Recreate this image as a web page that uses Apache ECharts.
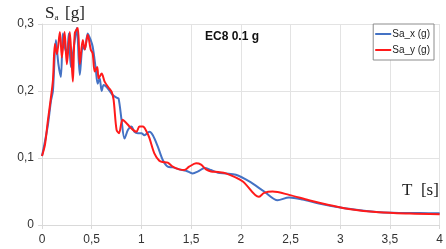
<!DOCTYPE html>
<html>
<head>
<meta charset="utf-8">
<script src="https://cdn.jsdelivr.net/npm/echarts@6/dist/echarts.min.js"></script>
<style>
  html, body { margin: 0; padding: 0; background: #fff; }
  #chart { width: 446px; height: 249px; }
</style>
</head>
<body>
<div id="chart"></div>
<script>
// period T [s] and spectral acceleration Sa [g]
const periodX = [0, 0.03, 0.06, 0.09, 0.11, 0.14, 0.165, 0.19, 0.21, 0.23, 0.25, 0.27, 0.29, 0.31, 0.33, 0.35, 0.38, 0.41, 0.43, 0.46, 0.49, 0.51, 0.54, 0.56, 0.58, 0.6, 0.62, 0.65, 0.68, 0.71, 0.75, 0.77, 0.8, 0.83, 0.865, 0.9, 0.93, 0.965, 1.0, 1.03, 1.08, 1.115, 1.165, 1.215, 1.265, 1.315, 1.38, 1.45, 1.515, 1.57, 1.635, 1.7, 1.77, 1.85, 1.95, 2.085, 2.235, 2.37, 2.485, 2.62, 2.785, 3.0, 3.2, 3.4, 3.6, 3.8, 4.0];
const saX = [0.103, 0.125, 0.15, 0.185, 0.2, 0.276, 0.24, 0.221, 0.286, 0.265, 0.257, 0.286, 0.236, 0.255, 0.276, 0.294, 0.224, 0.266, 0.262, 0.286, 0.276, 0.266, 0.234, 0.211, 0.219, 0.2, 0.209, 0.206, 0.2, 0.194, 0.19, 0.189, 0.157, 0.129, 0.142, 0.147, 0.139, 0.137, 0.137, 0.134, 0.139, 0.134, 0.117, 0.097, 0.087, 0.086, 0.083, 0.081, 0.077, 0.08, 0.085, 0.082, 0.078, 0.077, 0.075, 0.065, 0.05, 0.037, 0.041, 0.038, 0.032, 0.026, 0.022, 0.019, 0.018, 0.0178, 0.0175];

const periodY = [0, 0.03, 0.06, 0.087, 0.11, 0.13, 0.15, 0.18, 0.2, 0.227, 0.25, 0.28, 0.31, 0.33, 0.36, 0.38, 0.41, 0.43, 0.46, 0.49, 0.51, 0.53, 0.555, 0.57, 0.6, 0.63, 0.665, 0.7, 0.72, 0.75, 0.775, 0.81, 0.85, 0.88, 0.915, 0.95, 0.98, 1.015, 1.05, 1.08, 1.13, 1.18, 1.215, 1.265, 1.315, 1.38, 1.43, 1.48, 1.55, 1.6, 1.65, 1.7, 1.77, 1.85, 2.02, 2.18, 2.235, 2.32, 2.485, 2.685, 2.885, 3.085, 3.39, 3.7, 4.0];
const saY = [0.103, 0.12, 0.157, 0.187, 0.216, 0.27, 0.255, 0.288, 0.25, 0.288, 0.24, 0.288, 0.214, 0.286, 0.294, 0.24, 0.276, 0.262, 0.284, 0.262, 0.256, 0.229, 0.236, 0.219, 0.226, 0.214, 0.206, 0.199, 0.187, 0.142, 0.137, 0.157, 0.152, 0.147, 0.142, 0.139, 0.147, 0.147, 0.14, 0.13, 0.107, 0.096, 0.094, 0.093, 0.087, 0.083, 0.082, 0.087, 0.092, 0.09, 0.083, 0.08, 0.079, 0.077, 0.065, 0.042, 0.048, 0.05, 0.045, 0.037, 0.03, 0.024, 0.019, 0.017, 0.016];

const seriesNames = ['Sa_x (g)', 'Sa_y (g)'];

const pairs = (xs, ys) => xs.map((x, i) => [x, ys[i]]);
const comma = v => String(+v.toFixed(2)).replace('.', ',');

let chart = echarts.init(document.getElementById('chart'));
let option = {
  animation: false,
  grid: { left: 42, right: 5, top: 24, bottom: 24 },
  title: {
    text: 'EC8 0.1 g',
    left: 200,
    top: 26,
    textStyle: { fontFamily: 'Liberation Sans', fontWeight: 'bold', fontSize: 12, color: '#111' },
  },
  legend: {
    orient: 'vertical',
    right: 12,
    top: 24,
    data: seriesNames,
    icon: 'rect',
    itemWidth: 16,
    itemHeight: 2,
    itemGap: 6,
    padding: [5, 4, 5, 2],
    borderColor: '#8c8c8c',
    borderWidth: 1,
    backgroundColor: '#fff',
    textStyle: { fontFamily: 'Liberation Sans', fontSize: 10, color: '#222', padding: [0, 0, 0, -4] },
  },
  graphic: [
    {
      type: 'text',
      left: 45,
      top: 5,
      style: {
        text: '{s|S}{a|a}  {s|[g]}',
        rich: {
          s: { fontFamily: 'Liberation Serif', fontSize: 17, fill: '#222' },
          a: { fontFamily: 'Liberation Serif', fontSize: 9, fill: '#222', padding: [9, 0, 0, 0] },
        },
      },
    },
    {
      type: 'text',
      left: 402,
      top: 182,
      style: { text: 'T  [s]', fontFamily: 'Liberation Serif', fontSize: 17, fill: '#222' },
    },
  ],
  xAxis: {
    type: 'value',
    min: 0,
    max: 4,
    interval: 0.5,
    axisLine: { show: true, lineStyle: { color: '#d9d9d9' } },
    axisTick: { show: true, length: 4, lineStyle: { color: '#d9d9d9' } },
    axisLabel: { formatter: comma, color: '#333', fontFamily: 'Liberation Sans', fontSize: 12, margin: 9 },
    splitLine: { show: true, lineStyle: { color: '#e3e3e3' } },
  },
  yAxis: {
    type: 'value',
    min: 0,
    max: 0.3,
    interval: 0.1,
    axisLine: { show: true, lineStyle: { color: '#d9d9d9' } },
    axisTick: { show: true, length: 4, lineStyle: { color: '#d9d9d9' } },
    axisLabel: { formatter: comma, color: '#333', fontFamily: 'Liberation Sans', fontSize: 12, margin: 8 },
    splitLine: { show: true, lineStyle: { color: '#e3e3e3' } },
  },
  series: [
    {
      name: seriesNames[0],
      type: 'line',
      data: pairs(periodX, saX),
      smooth: 0.3,
      showSymbol: false,
      lineStyle: { width: 2, color: '#4472c4' },
      itemStyle: { color: '#4472c4' },
    },
    {
      name: seriesNames[1],
      type: 'line',
      data: pairs(periodY, saY),
      smooth: 0.3,
      showSymbol: false,
      lineStyle: { width: 2, color: '#ff1a1a' },
      itemStyle: { color: '#ff1a1a' },
    },
  ],
};
chart.setOption(option);
</script>
</body>
</html>
